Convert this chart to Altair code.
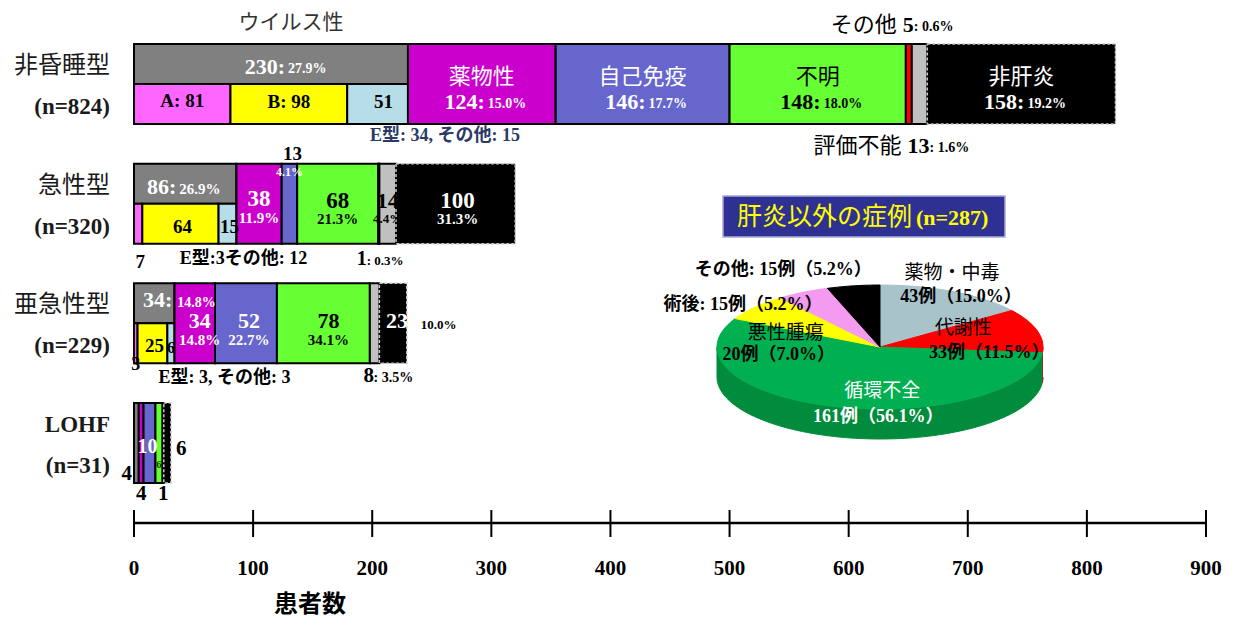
import math
import numpy as np
import pandas as pd
import altair as alt

# ------------------------------------------------------------------ data
ROWS = ["非昏睡型", "急性型", "亜急性型", "LOHF"]
N_PATIENTS = [824, 320, 229, 31]
CATEGORIES = ["ウイルス性", "薬物性", "自己免疫", "不明", "その他", "評価不能", "非肝炎"]
VIRUS = [230, 86, 34, 4]
DRUG = [124, 38, 34, 4]
AUTOIMMUNE = [146, 13, 52, 10]
UNKNOWN = [148, 68, 78, 6]
OTHER = [5, 1, 0, 0]
UNEVALUABLE = [13, 14, 8, 1]
NON_HEPATITIS = [158, 100, 23, 6]
# virus breakdown (non-coma, acute, subacute)
HAV = [81, 7, 3]
HBV = [98, 64, 25]
VIRUS_OTHER = [51, 15, 6]
HEV = [34, 3, 3]
VIRUS_MISC = [15, 12, 3]
TICKS = [0, 100, 200, 300, 400, 500, 600, 700, 800, 900]
AXIS_TITLE = "患者数"

PIE_TITLE = "肝炎以外の症例"
PIE_CATEGORIES = ["薬物・中毒", "代謝性", "循環不全", "悪性腫瘍", "術後", "その他"]
PIE_VALUES = [43, 33, 161, 20, 15, 15]

# ------------------------------------------------------------------ style / layout
SERIF = "Liberation Serif"
JP = "Noto Sans CJK JP"
MIX = "Liberation Serif, Noto Sans CJK JP"

KEYS = ["virus", "drug", "auto", "unknown", "other", "uneval", "nonhep"]
SERIES = [VIRUS, DRUG, AUTOIMMUNE, UNKNOWN, OTHER, UNEVALUABLE, NON_HEPATITIS]
COL = {"virus": "#808080", "A": "#FF66FF", "B": "#FFFF00", "VO": "#B7DEE8",
       "drug": "#CC00CC", "auto": "#6666CC", "unknown": "#66FF33",
       "other": "#FF0000", "uneval": "#C0C0C0", "nonhep": "#000000"}
PIE_COL = ["#A9C3CB", "#FF0000", "#00B050", "#FFFF00", "#F49AF0", "#000000"]
PIE_SIDE = {1: "#C00000", 2: "#008C3C"}

X_RANGE = [134, 1206]
Y_RANGE = [84, 443]
PXU = (X_RANGE[1] - X_RANGE[0]) / 900.0
PXR = (Y_RANGE[1] - Y_RANGE[0]) / 3.0
HALF = 40 / PXR

XS = alt.Scale(domain=[0, 900], range=X_RANGE, nice=False, zero=False)
YS = alt.Scale(domain=[0, 3], range=Y_RANGE, nice=False, zero=False)


def pct(v, n):
    return f"{math.floor(v / n * 1000 + 0.5) / 10:.1f}%"


# ------------------------------------------------------------------ bar segments
seg_rows = []
bounds = []
for r in range(4):
    b = {}
    s = 0
    for k, arr in zip(KEYS, SERIES):
        v = arr[r]
        b[k] = (s, s + v)
        if v > 0:
            if k == "virus" and r < 3:
                seg_rows.append(dict(k="virus", x0=s, x1=s + v, y0=r - HALF, y1=r))
                s2 = s
                for kk, aa in zip(["A", "B", "VO"], [HAV, HBV, VIRUS_OTHER]):
                    b[kk] = (s2, s2 + aa[r])
                    seg_rows.append(dict(k=kk, x0=s2, x1=s2 + aa[r], y0=r, y1=r + HALF))
                    s2 += aa[r]
            else:
                seg_rows.append(dict(k=k, x0=s, x1=s + v, y0=r - HALF, y1=r + HALF))
        s += v
    bounds.append(b)
seg_df = pd.DataFrame(seg_rows)

color_enc = alt.Color("k:N", scale=alt.Scale(domain=list(COL.keys()), range=list(COL.values())), legend=None)

rects = alt.Chart(seg_df[seg_df.k != "nonhep"]).mark_rect(stroke="black", strokeWidth=2).encode(
    x=alt.X("x0:Q", scale=XS, axis=None), x2="x1:Q",
    y=alt.Y("y0:Q", scale=YS, axis=None), y2="y1:Q",
    color=color_enc)
black_rects = alt.Chart(seg_df[seg_df.k == "nonhep"]).mark_rect(
    fill="black", stroke="#C8C8C8", strokeWidth=1.5, strokeDash=[3, 2]).encode(
    x=alt.X("x0:Q", scale=XS, axis=None), x2="x1:Q",
    y=alt.Y("y0:Q", scale=YS, axis=None), y2="y1:Q")

# ------------------------------------------------------------------ x axis drawn from the tick list
tick_df = pd.DataFrame({"t": TICKS, "lab": [str(t) for t in TICKS]})
tick_rules = alt.Chart(tick_df).mark_rule(color="black", strokeWidth=2).encode(
    x=alt.X("t:Q", scale=XS, axis=None), y=alt.value(510), y2=alt.value(537))
axis_line = alt.Chart(pd.DataFrame({"a": [TICKS[0]], "b": [TICKS[-1]]})).mark_rule(
    color="black", strokeWidth=2.5).encode(
    x=alt.X("a:Q", scale=XS, axis=None), x2="b:Q", y=alt.value(523))
tick_labels = alt.Chart(tick_df).mark_text(font=SERIF, fontWeight="bold", fontSize=21, color="black",
                                           align="center", baseline="middle").encode(
    x=alt.X("t:Q", scale=XS, axis=None), y=alt.value(569), text="lab:N")
axis_title = alt.Chart(pd.DataFrame({"a": [0]})).mark_text(
    text=AXIS_TITLE, font=JP, fontWeight="bold", fontSize=24, color="black",
    align="center", baseline="middle").encode(x=alt.value(310), y=alt.value(605))

# ------------------------------------------------------------------ annotations
ANN = []


def ann(g, xu, r, off, text, size, color, dx=0):
    ANN.append(dict(g=g, x=xu + dx / PXU, y=r + off / PXR, t=text, s=size, c=color))


def pair(xu, r, off, big, small, bs, ss, color, split):
    ann("sr", xu, r, off, big, bs, color, split)
    ann("sl", xu, r, off + 0.3 * (bs - ss), small, ss, color, split + 3)


def c(b, k):
    return (b[k][0] + b[k][1]) / 2


# row 0 : 非昏睡型
b = bounds[0]; n = N_PATIENTS[0]
ann("jc", c(b, "virus"), 0, -61, CATEGORIES[0], 21, "#333333", 20)
pair(c(b, "virus"), 0, -17, f"{VIRUS[0]}:", pct(VIRUS[0], n), 22, 14, "white", 14)
ann("sc", c(b, "A"), 0, 17, f"A: {HAV[0]}", 19, "black")
ann("sc", c(b, "B"), 0, 18, f"B: {HBV[0]}", 19, "black")
ann("sc", c(b, "VO"), 0, 18, f"{VIRUS_OTHER[0]}", 19, "black", 6)
ann("mc", b["virus"][1], 0, 52, f"E型: {HEV[0]}, その他: {VIRUS_MISC[0]}", 18, "#2B3A67", 37)
for k, idx, col in [("drug", 1, "white"), ("auto", 2, "white"), ("unknown", 3, "black"), ("nonhep", 6, "white")]:
    ann("jc", c(b, k), 0, -7, CATEGORIES[idx], 22, col)
    pair(c(b, k), 0, 18, f"{SERIES[idx][0]}:", pct(SERIES[idx][0], n), 22, 14, col, 3)
ann("jr", c(b, "other"), 0, -59, CATEGORIES[4], 22, "black", -12)
ann("sl", c(b, "other"), 0, -59, f"{OTHER[0]}", 22, "black", -6)
ann("sl", c(b, "other"), 0, -59 + 0.3 * 8, f": {pct(OTHER[0], n)}", 14, "black", 5)
ann("jr", c(b, "uneval"), 0, 62, CATEGORIES[5], 22, "black", -18)
ann("sl", c(b, "uneval"), 0, 62, f"{UNEVALUABLE[0]}", 22, "black", -12)
ann("sl", c(b, "uneval"), 0, 62 + 0.3 * 8, f": {pct(UNEVALUABLE[0], n)}", 14, "black", 10)

# row 1 : 急性型
b = bounds[1]; n = N_PATIENTS[1]
pair(c(b, "virus"), 1, -17, f"{VIRUS[1]}:", pct(VIRUS[1], n), 22, 15, "white", -9)
ann("sc", c(b, "B"), 1, 23, f"{HBV[1]}", 19, "black", 2)
ann("sc", c(b, "VO"), 1, 23, f"{VIRUS_OTHER[1]}", 19, "black", 2)
ann("sc", c(b, "A"), 1, 58, f"{HAV[1]}", 19, "black", 2)
ann("mc", b["virus"][1], 1, 55, f"E型:{HEV[1]}その他: {VIRUS_MISC[1]}", 18, "black", 7)
ann("sc", c(b, "drug"), 1, -5, f"{DRUG[1]}", 23, "white")
ann("sc", c(b, "drug"), 1, 14, pct(DRUG[1], n), 15, "white")
ann("sc", c(b, "auto"), 1, -50, f"{AUTOIMMUNE[1]}", 19, "black", 3)
ann("sc", c(b, "auto"), 1, -32, pct(AUTOIMMUNE[1], n), 12, "white")
ann("sc", c(b, "unknown"), 1, -3, f"{UNKNOWN[1]}", 23, "black")
ann("sc", c(b, "unknown"), 1, 15, pct(UNKNOWN[1], n), 15, "black")
ann("sl", c(b, "other"), 1, 55, f"{OTHER[1]}", 20, "black", -22)
ann("sl", c(b, "other"), 1, 55 + 0.3 * 7, f": {pct(OTHER[1], n)}", 13, "black", -12)
ann("sc", c(b, "uneval"), 1, -3, f"{UNEVALUABLE[1]}", 22, "black")
ann("sc", c(b, "uneval"), 1, 15, pct(UNEVALUABLE[1], n), 13, "black")
ann("sc", c(b, "nonhep"), 1, -3, f"{NON_HEPATITIS[1]}", 23, "white", 2)
ann("sc", c(b, "nonhep"), 1, 15, pct(NON_HEPATITIS[1], n), 15, "white", 2)

# row 2 : 亜急性型
b = bounds[2]; n = N_PATIENTS[2]
ann("sr", c(b, "virus"), 2, -23, f"{VIRUS[2]}:", 22, "white", 18)
ann("sl", c(b, "virus"), 2, -23 + 0.3 * 8, pct(VIRUS[2], n), 14, "white", 23)
ann("sc", c(b, "B"), 2, 23, f"{HBV[2]}", 19, "black", 2)
ann("sc", c(b, "VO"), 2, 25, f"{VIRUS_OTHER[2]}", 16, "black")
ann("sc", c(b, "A"), 2, 42, f"{HAV[2]}", 18, "black")
ann("mc", b["virus"][1], 2, 55, f"E型: {HEV[2]}, その他: {VIRUS_MISC[2]}", 18, "black", 50)
for k, arr, col, dx in [("drug", DRUG, "white", 5), ("auto", AUTOIMMUNE, "white", 3), ("unknown", UNKNOWN, "black", 5)]:
    ann("sc", c(b, k), 2, -2, f"{arr[2]}", 22, col, dx)
    ann("sc", c(b, k), 2, 17, pct(arr[2], n), 15, col, dx)
ann("sl", c(b, "uneval"), 2, 53, f"{UNEVALUABLE[2]}", 21, "black", -11)
ann("sl", c(b, "uneval"), 2, 53 + 0.3 * 7, f": {pct(UNEVALUABLE[2], n)}", 14, "black", -1)
ann("sc", c(b, "nonhep"), 2, -2, f"{NON_HEPATITIS[2]}", 22, "white", 4)
ann("sl", b["nonhep"][1], 2, 2, pct(NON_HEPATITIS[2], n), 13, "black", 14)

# row 3 : LOHF
b = bounds[3]
ann("sr", b["virus"][0], 3, 31, f"{VIRUS[3]}", 21, "black", -2)
ann("sc", c(b, "drug"), 3, 51, f"{DRUG[3]}", 21, "black")
ann("sc", c(b, "auto"), 3, 4, f"{AUTOIMMUNE[3]}", 20, "white", -2)
ann("sc", c(b, "unknown"), 3, 22, f"{UNKNOWN[3]}", 11, "#1A3A00")
ann("sc", c(b, "uneval"), 3, 51, f"{UNEVALUABLE[3]}", 21, "black")
ann("sl", b["nonhep"][1], 3, 6, f"{NON_HEPATITIS[3]}", 21, "black", 5)

ann_df = pd.DataFrame(ANN)
GROUPS = {
    "sc": (SERIF, "bold", "center"), "sr": (SERIF, "bold", "right"), "sl": (SERIF, "bold", "left"),
    "jc": (JP, "normal", "center"), "jr": (JP, "normal", "right"), "mc": (MIX, "bold", "center"),
}
text_layers = []
for g, (font, weight, align) in GROUPS.items():
    d = ann_df[ann_df.g == g]
    text_layers.append(alt.Chart(d).mark_text(font=font, fontWeight=weight, align=align, baseline="middle").encode(
        x=alt.X("x:Q", scale=XS, axis=None),
        y=alt.Y("y:Q", scale=YS, axis=None),
        text="t:N",
        size=alt.Size("s:Q", scale=None, legend=None),
        color=alt.Color("c:N", scale=None, legend=None)))

# row labels
lab_df = pd.DataFrame({"r": list(range(4)), "name": ROWS, "n": [f"(n={v})" for v in N_PATIENTS]})
lab_df["yname"] = lab_df.r - 18 / PXR
lab_df["yn"] = lab_df.r + 23 / PXR
row_names_jp = alt.Chart(lab_df[lab_df.r < 3]).mark_text(font=JP, fontSize=24, align="right", baseline="middle", color="#1A1A1A").encode(
    x=alt.value(110), y=alt.Y("yname:Q", scale=YS, axis=None), text="name:N")
row_names_en = alt.Chart(lab_df[lab_df.r == 3]).mark_text(font=SERIF, fontWeight="bold", fontSize=23, align="right", baseline="middle", color="#1A1A1A").encode(
    x=alt.value(110), y=alt.Y("yname:Q", scale=YS, axis=None), text="name:N")
row_ns = alt.Chart(lab_df).mark_text(font=SERIF, fontWeight="bold", fontSize=23, align="right", baseline="middle", color="#1A1A1A").encode(
    x=alt.value(110), y=alt.Y("yn:Q", scale=YS, axis=None), text="n:N")

bar_group = alt.layer(rects, black_rects, tick_rules, axis_line, tick_labels, axis_title,
                      *text_layers, row_names_jp, row_names_en, row_ns)

# ------------------------------------------------------------------ pie (3D ellipse)
PXS = alt.Scale(domain=[-1, 1], range=[717, 1043], nice=False, zero=False)
PYS = alt.Scale(domain=[-1, 1], range=[285, 409], nice=False, zero=False)
THICK = 30 / 62.0
total = sum(PIE_VALUES)
cum = np.concatenate([[0], np.cumsum(PIE_VALUES)]) / total * 360.0


def ell(t):
    rad = np.radians(t)
    return np.sin(rad), -np.cos(rad)


def poly_layer(xs, ys, col):
    df = pd.DataFrame({"x": xs, "y": ys, "i": np.arange(len(xs))})
    return alt.Chart(df).mark_line(fill=col, stroke=col, strokeWidth=1, strokeJoin="round").encode(
        x=alt.X("x:Q", scale=PXS, axis=None), y=alt.Y("y:Q", scale=PYS, axis=None), order="i:Q")


pie_layers = []
# side walls (front half only)
for i in range(len(PIE_VALUES)):
    a0, a1 = max(cum[i], 90.0), min(cum[i + 1], 270.0)
    if a1 > a0:
        ts = np.linspace(a0, a1, int((a1 - a0) / 2) + 2)
        ex, ey = ell(ts)
        xs = np.concatenate([ex, ex[::-1]])
        ys = np.concatenate([ey, (ey + THICK)[::-1]])
        pie_layers.append(poly_layer(xs, ys, PIE_SIDE.get(i, PIE_COL[i])))
# top faces
for i in range(len(PIE_VALUES)):
    ts = np.linspace(cum[i], cum[i + 1], int((cum[i + 1] - cum[i]) / 2) + 2)
    ex, ey = ell(ts)
    xs = np.concatenate([[0], ex, [0]])
    ys = np.concatenate([[0], ey, [0]])
    pie_layers.append(poly_layer(xs, ys, PIE_COL[i]))

# title box
dummy = pd.DataFrame({"a": [0]})
title_box = alt.Chart(dummy).mark_rect(fill="#2E3192", stroke="#A6A9D8", strokeWidth=1.5).encode(
    x=alt.value(723), x2=alt.value(1005), y=alt.value(196), y2=alt.value(237))
title_jp = alt.Chart(dummy).mark_text(text=PIE_TITLE, font=JP, fontSize=25, color="#FFFF00", align="right", baseline="middle").encode(
    x=alt.value(912), y=alt.value(217))
title_n = alt.Chart(dummy).mark_text(text=f"(n={total})", font=SERIF, fontWeight="bold", fontSize=22, color="#FFFF00", align="left", baseline="middle").encode(
    x=alt.value(916), y=alt.value(218))

# slice labels anchored at mid-angle of each slice
mid = (cum[:-1] + cum[1:]) / 2
mx, my = ell(mid)
LABEL_LAYOUT = {  # slice index: list of (kind, dx, dy, color)
    0: [("name", -2, -19, "black"), ("count", 7, 5, "black")],
    1: [("name", -74, -3, "black"), ("count", -48, 22, "black")],
    2: [("name", 48, -16, "white"), ("count", 44, 10, "white")],
    3: [("name", 31, 26, "black"), ("count", 24, 48, "black")],
    4: [("both", -60, 13, "black")],
    5: [("both", -70, -16, "black")],
}
label_layers = []
for i, specs in LABEL_LAYOUT.items():
    v = PIE_VALUES[i]
    cnt = f"{v}例（{pct(v, total)}）"
    for kind, dx, dy, col in specs:
        if kind == "name":
            txt, font, weight, fs = PIE_CATEGORIES[i], JP, "normal", 19
        elif kind == "count":
            txt, font, weight, fs = cnt, MIX, "bold", 18
        else:
            txt, font, weight, fs = f"{PIE_CATEGORIES[i]}: {cnt}", MIX, "bold", 18
        d = pd.DataFrame({"x": [mx[i]], "y": [my[i]], "t": [txt]})
        label_layers.append(alt.Chart(d).mark_text(font=font, fontWeight=weight, fontSize=fs, color=col,
                                                   align="center", baseline="middle", dx=dx, dy=dy).encode(
            x=alt.X("x:Q", scale=PXS, axis=None), y=alt.Y("y:Q", scale=PYS, axis=None), text="t:N"))

pie_group = alt.layer(*pie_layers, title_box, title_jp, title_n, *label_layers)

chart = alt.layer(bar_group, pie_group).resolve_scale(x="independent", y="independent").properties(
    width=1235, height=625, padding=0, autosize="none", background="white"
).configure_view(stroke=None)

chart.save("out.html", embed_options={"renderer": "svg", "actions": False})
